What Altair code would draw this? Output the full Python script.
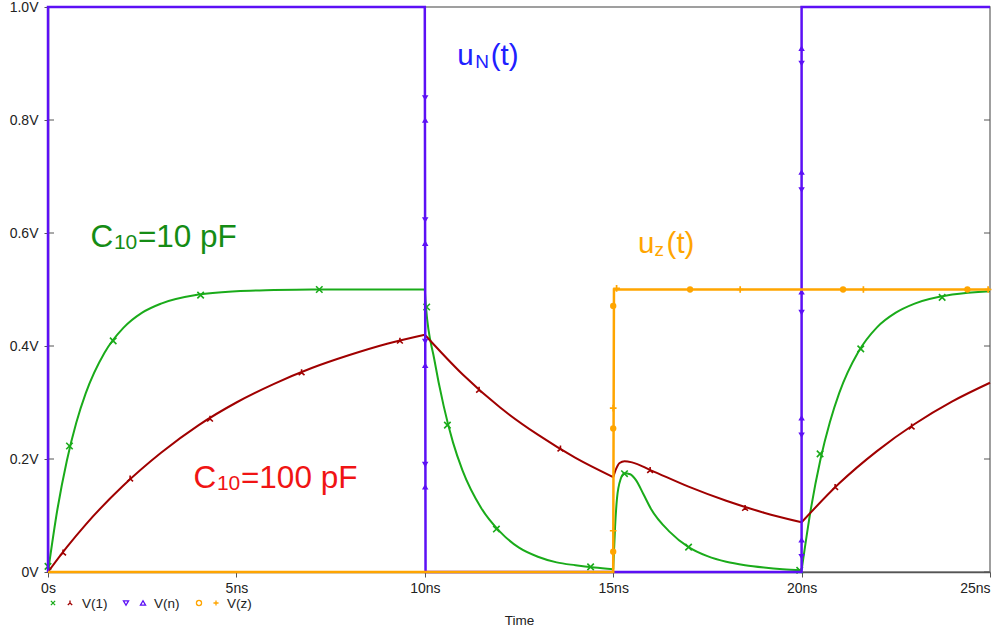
import altair as alt
import pandas as pd

# ---------------- data ----------------
# V(1), run 1 (C10 = 10 pF)
green_t = [0, 0.25, 0.5, 0.75, 1, 1.5, 2, 2.5, 3, 4, 5, 6, 7, 8, 10,
           10.03, 10.25, 10.5, 10.75, 11, 11.5, 12, 12.5, 13, 13.5, 14, 14.5, 15,
           15.05, 15.1, 15.2, 15.3, 15.45, 15.6, 15.8, 16, 16.5, 17, 17.5, 18, 18.5, 19, 19.5, 20,
           20.25, 20.5, 20.75, 21, 21.5, 22, 22.5, 23, 24, 25]
green_v = [0.0, 0.111, 0.197, 0.264, 0.316, 0.388, 0.432, 0.459, 0.475, 0.491, 0.497, 0.499, 0.5, 0.5, 0.5,
           0.47, 0.377, 0.294, 0.229, 0.18, 0.113, 0.071, 0.043, 0.027, 0.017, 0.012, 0.008, 0.005,
           0.08, 0.13, 0.165, 0.175, 0.173, 0.163, 0.138, 0.112, 0.071, 0.044, 0.028, 0.018, 0.012, 0.008, 0.005, 0.003,
           0.113, 0.199, 0.265, 0.317, 0.389, 0.433, 0.459, 0.475, 0.491, 0.497]
green_mk_t = [0.0, 0.57, 1.73, 4.05, 7.2, 10.05, 10.6, 11.9, 14.4, 15.3, 17.0, 19.95, 20.49, 21.57, 23.73]
green_mk_v = [0.01, 0.223, 0.409, 0.49, 0.5, 0.469, 0.26, 0.076, 0.009, 0.174, 0.044, 0.003, 0.209, 0.395, 0.486]

# V(1), run 2 (C10 = 100 pF)
red_t = [0, 0.5, 1, 2, 3, 4, 5, 6, 7, 8, 9, 10, 11, 12, 13, 14, 15,
         15.08, 15.17, 15.3, 15.5, 16, 17, 18, 19, 20, 21, 22, 23, 24, 25]
red_v = [0.0, 0.044, 0.084, 0.153, 0.211, 0.26, 0.3, 0.333, 0.361, 0.384, 0.404, 0.42, 0.35, 0.291, 0.243, 0.202, 0.168,
         0.183, 0.193, 0.196, 0.194, 0.18, 0.151, 0.126, 0.105, 0.088, 0.157, 0.214, 0.262, 0.302, 0.335]
red_mk_t = [0.4, 2.18, 4.3, 6.73, 9.34, 11.44, 13.6, 15.98, 18.5, 20.89, 22.92]
red_mk_v = [0.034, 0.165, 0.271, 0.353, 0.409, 0.322, 0.218, 0.18, 0.113, 0.15, 0.257]

# V(n)
blue_t = [0, 0, 10, 10.02, 20, 20, 25]
blue_v = [0, 1, 1, 0, 0, 1, 1]
blue_dn_t = [10.01, 10.01, 10.01, 10.01, 20.0, 20.0, 20.0, 20.0, 20.0]
blue_dn_v = [0.839, 0.623, 0.408, 0.19, 0.90, 0.676, 0.459, 0.242, 0.027]
blue_up_t = [10.01, 10.01, 10.01, 10.01, 20.0, 20.0, 20.0, 20.0, 20.0]
blue_up_v = [0.80, 0.582, 0.366, 0.151, 0.927, 0.708, 0.496, 0.273, 0.057]

# V(z)
orange_t = [0, 15, 15.02, 25]
orange_v = [0, 0, 0.5, 0.5]
orange_circ_t = [15.0, 15.0, 15.0, 17.04, 21.1, 24.4]
orange_circ_v = [0.471, 0.254, 0.036, 0.5, 0.5, 0.5]
orange_plus_t = [15.0, 15.0, 15.09, 18.37, 21.64, 24.95]
orange_plus_v = [0.29, 0.073, 0.502, 0.5, 0.5, 0.5]

x_ticks = [0, 5, 10, 15, 20, 25]
y_ticks = [0, 0.2, 0.4, 0.6, 0.8, 1.0]
legend_labels = ["V(1)", "V(n)", "V(z)"]

# annotation anchors (time in ns, volts)
ann_c10_t, ann_c10_v = 1.125, 0.576
ann_c100_t, ann_c100_v = 3.86, 0.148
ann_un_t, ann_un_v = 10.86, 0.897
ann_uz_t, ann_uz_v = 15.66, 0.564

# ---------------- styling ----------------
W, H = 942, 565
FONT = "Liberation Sans"
GREEN = "#1aab1a"
GREEN_TXT = "#158c15"
RED = "#a00000"
RED_TXT = "#f01414"
BLUE = "#5c10f5"
BLUE_TXT = "#2020ff"
ORANGE = "#ffa500"
AXC = "#555555"

X_PATH = "M-1,-1L1,1M-1,1L1,-1"
Y_PATH = "M0,-1L0,0L-0.9,0.8M0,0L0.9,0.8"
PLUS_PATH = "M-1,0L1,0M0,-1L0,1"

x_enc = alt.X("t:Q", scale=alt.Scale(domain=[0, 25], nice=False, zero=False),
              axis=alt.Axis(values=x_ticks, title="Time", grid=False,
                            labelExpr="datum.value == 0 ? '0s' : datum.value + 'ns'",
                            labelAlign={"condition": {"test": "datum.value == 25", "value": "right"}, "value": "center"},
                            tickSize=5, tickColor=AXC, domainColor=AXC, domainWidth=1.5,
                            labelFont=FONT, labelFontSize=14, labelColor="#222222", labelPadding=4,
                            titleFont=FONT, titleFontSize=13.5, titleFontWeight="normal",
                            titleColor="#222222", titlePadding=18))
y_enc = alt.Y("v:Q", scale=alt.Scale(domain=[0, 1], nice=False),
              axis=alt.Axis(values=y_ticks, title=None, grid=False,
                            labelExpr="datum.value == 0 ? '0V' : format(datum.value, '.1f') + 'V'",
                            tickSize=4, tickColor=AXC, domainColor=AXC, domainWidth=1.5,
                            labelFont=FONT, labelFontSize=14, labelColor="#222222", labelPadding=6))


def line_layer(ts, vs, color, width, breaks, interp):
    bounds = [0] + breaks + [25]
    rows = []
    for s in range(len(bounds) - 1):
        a, b = bounds[s], bounds[s + 1]
        for i, (t, v) in enumerate(zip(ts, vs)):
            if a <= t <= b:
                rows.append({"t": t, "v": v, "seg": s, "i": i})
    return alt.Chart(pd.DataFrame(rows)).mark_line(
        color=color, strokeWidth=width, interpolate=interp, clip=False
    ).encode(x=x_enc, y=y_enc, detail="seg:N", order="i:Q")


def marker_layer(ts, vs, shape, color, size, filled, sw=1.3):
    return alt.Chart(pd.DataFrame({"t": ts, "v": vs})).mark_point(
        shape=shape, color=color, size=size, filled=filled, strokeWidth=sw, opacity=1, clip=False
    ).encode(x=x_enc, y=y_enc)


def text_part(t, v, txt, color, size, dx, dy):
    return alt.Chart(pd.DataFrame({"t": [t], "v": [v], "txt": [txt]})).mark_text(
        align="left", baseline="alphabetic", font=FONT, fontSize=size, color=color, dx=dx, dy=dy
    ).encode(x=x_enc, y=y_enc, text="txt:N")


dummy = pd.DataFrame({"k": [0]})


def legend_glyph(px, py, shape, color, size, filled):
    return alt.Chart(dummy).mark_point(shape=shape, color=color, size=size, filled=filled,
                                       strokeWidth=1.3, opacity=1, clip=False).encode(
        x=alt.value(px), y=alt.value(py))


def legend_text(px, py, txt):
    return alt.Chart(dummy).mark_text(text=txt, align="left", baseline="alphabetic", font=FONT,
                                      fontSize=13.5, color="#222222").encode(x=alt.value(px), y=alt.value(py))


tick_df = pd.DataFrame({"v": y_ticks})
left_ticks = alt.Chart(tick_df).mark_rule(color=AXC, strokeWidth=1).encode(
    y=y_enc, x=alt.value(0), x2=alt.value(6))
right_ticks = alt.Chart(tick_df).mark_rule(color=AXC, strokeWidth=1).encode(
    y=y_enc, x=alt.value(W - 6), x2=alt.value(W))

layers = [
    left_ticks, right_ticks,
    line_layer(green_t, green_v, GREEN, 2, [10, 15, 20], "monotone"),
    marker_layer(green_mk_t, green_mk_v, X_PATH, GREEN, 42, False, 1.6),
    line_layer(red_t, red_v, RED, 2, [10, 15, 20], "monotone"),
    marker_layer(red_mk_t, red_mk_v, Y_PATH, RED, 42, False, 1.6),
    line_layer(blue_t, blue_v, BLUE, 2.5, [], "linear"),
    marker_layer(blue_dn_t, blue_dn_v, "triangle-down", BLUE, 42, True),
    marker_layer(blue_up_t, blue_up_v, "triangle-up", BLUE, 42, True),
    line_layer(orange_t, orange_v, ORANGE, 2.5, [], "linear"),
    marker_layer(orange_circ_t, orange_circ_v, "circle", ORANGE, 40, True),
    marker_layer(orange_plus_t, orange_plus_v, PLUS_PATH, ORANGE, 45, False, 1.7),
    # annotations
    text_part(ann_c10_t, ann_c10_v, "C", GREEN_TXT, 31.5, 0, 0),
    text_part(ann_c10_t, ann_c10_v, "10", GREEN_TXT, 21, 23.5, 2),
    text_part(ann_c10_t, ann_c10_v, "=10 pF", GREEN_TXT, 31.5, 47.5, 0),
    text_part(ann_c100_t, ann_c100_v, "C", RED_TXT, 31.5, 0, 0),
    text_part(ann_c100_t, ann_c100_v, "10", RED_TXT, 21, 23.5, 2),
    text_part(ann_c100_t, ann_c100_v, "=100 pF", RED_TXT, 31.5, 47.5, 0),
    text_part(ann_un_t, ann_un_v, "u", BLUE_TXT, 29.5, 0, 0),
    text_part(ann_un_t, ann_un_v, "N", BLUE_TXT, 19, 18, 3),
    text_part(ann_un_t, ann_un_v, "(t)", BLUE_TXT, 29.5, 33.5, 0),
    text_part(ann_uz_t, ann_uz_v, "u", ORANGE, 29.5, 0, 0),
    text_part(ann_uz_t, ann_uz_v, "z", ORANGE, 19, 16.5, 3),
    text_part(ann_uz_t, ann_uz_v, "(t)", ORANGE, 29.5, 28.5, 0),
    # custom legend
    legend_glyph(5, 596, X_PATH, GREEN, 18, False),
    legend_glyph(22, 596, Y_PATH, RED, 24, False),
    legend_text(34, 601, legend_labels[0]),
    legend_glyph(78, 596, "triangle-down", BLUE, 26, False),
    legend_glyph(95, 596, "triangle-up", BLUE, 26, False),
    legend_text(106, 601, legend_labels[1]),
    legend_glyph(151, 596, "circle", ORANGE, 26, False),
    legend_glyph(168, 596, PLUS_PATH, ORANGE, 26, False),
    legend_text(179, 601, legend_labels[2]),
]

chart = alt.layer(*layers).properties(
    width=W, height=H,
    padding={"left": 48, "top": 7, "right": 10, "bottom": 70},
    autosize=alt.AutoSizeParams(type="none"),
    background="white",
).configure_view(stroke="#808080", strokeWidth=1.5)

chart.save("out.html", embed_options={"renderer": "svg", "actions": False})
